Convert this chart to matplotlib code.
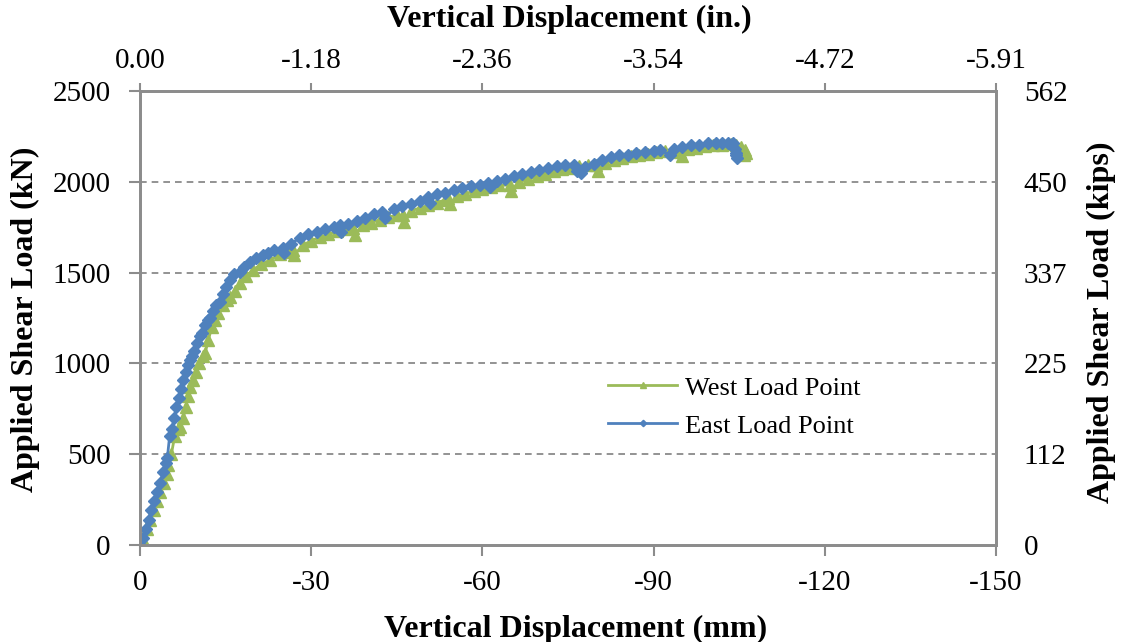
import matplotlib.pyplot as plt

plt.rcParams['font.family'] = ['Liberation Serif', 'DejaVu Serif']

# West load point (green) - displacement mm, load kN
west_disp = [0, -0.6, -1.2, -1.8, -2.4, -3.0, -3.6, -4.2, -4.8, -5.0, -5.5, -6.1, -6.6, -7.0,
             -7.6, -8.0, -8.4, -8.8, -9.3, -9.8, -10.4, -11.0, -11.4, -12.0, -12.6, -13.2,
             -13.7, -14.5, -15.2, -15.8, -16.6, -17.5, -18.6, -19.8, -21.2, -22.8, -24.5,
             -26.0, -26.8, -27.0, -28.5, -30.0, -31.5, -33.0, -34.5, -36.0, -37.4, -37.6,
             -39.0, -40.5, -42.0, -43.5, -45.0, -46.1, -46.3, -47.5, -49.0, -50.5, -52.0,
             -53.5, -54.0, -54.3, -55.5, -57.0, -58.5, -60.0, -61.5, -63.0, -64.8, -65.0,
             -66.5, -68.0, -69.5, -71.0, -72.5, -74.0, -75.5, -77.0, -78.5, -80.0, -80.3,
             -81.5, -83.0, -84.5, -86.0, -87.5, -89.0, -90.5, -92.0, -93.5, -94.6, -94.9,
             -96.0, -97.5, -99.0, -100.5, -102.0, -103.5, -104.5, -105.3, -106.0, -106.2,
             -105.8, -105.5]
west_load = [0, 30, 90, 140, 190, 240, 290, 340, 390, 440, 500, 600, 640, 650,
             700, 760, 820, 870, 909, 950, 1000, 1040, 1055, 1130, 1202, 1240,
             1276, 1320, 1350, 1367, 1400, 1441, 1480, 1514, 1545, 1569, 1600,
             1615, 1624, 1595, 1650, 1675, 1695, 1712, 1727, 1740, 1744, 1705,
             1760, 1775, 1790, 1805, 1815, 1817, 1780, 1840, 1855, 1870, 1885,
             1900, 1909, 1875, 1920, 1935, 1948, 1960, 1970, 1980, 1982, 1950,
             2000, 2015, 2030, 2045, 2058, 2068, 2075, 2085, 2090, 2093, 2060,
             2105, 2118, 2130, 2140, 2150, 2155, 2162, 2168, 2172, 2166, 2140,
             2180, 2188, 2195, 2200, 2205, 2206, 2200, 2190, 2175, 2157,
             2150, 2165]

# East load point (blue)
east_disp = [0, -0.5, -1.0, -1.5, -2.0, -2.5, -3.0, -3.5, -4.0, -4.5, -4.8, -5.2, -5.6, -6.0,
             -6.4, -6.8, -7.2, -7.6, -8.0, -8.4, -8.8, -9.1, -9.5, -10.0, -10.5, -10.8,
             -11.4, -12.0, -12.3, -12.8, -13.4, -14.0, -14.5, -15.0, -15.8, -16.5, -17.5,
             -18.3, -19.3, -20.4, -21.5, -22.5, -23.5, -25.0, -25.3, -26.5, -28.0, -29.5,
             -31.0, -32.5, -34.0, -35.0, -35.3, -36.5, -38.0, -39.5, -41.0, -42.5, -43.0,
             -44.5, -46.0, -47.5, -49.0, -50.5, -50.8, -52.0, -53.5, -55.0, -56.5, -58.0,
             -59.5, -61.0, -61.3, -62.5, -64.0, -65.5, -67.0, -68.5, -70.0, -71.5, -73.0,
             -74.5, -76.0, -76.5, -77.3, -78.0, -79.5, -81.0, -82.5, -84.0, -85.5, -87.0,
             -88.5, -90.0, -91.1, -92.8, -93.5, -95.0, -96.5, -98.0, -99.5, -101.0, -102.0,
             -103.0, -104.0, -104.3, -104.5, -104.6, -104.5]
east_load = [0, 40, 90, 140, 190, 240, 290, 340, 400, 450, 480, 600, 640, 700,
             760, 810, 860, 910, 950, 990, 1020, 1040, 1070, 1110, 1150, 1170,
             1210, 1240, 1250, 1290, 1320, 1340, 1380, 1420, 1460, 1490, 1505,
             1530, 1560, 1580, 1595, 1610, 1625, 1634, 1610, 1660, 1690, 1710,
             1725, 1740, 1750, 1760, 1722, 1770, 1785, 1800, 1820, 1835, 1802,
             1850, 1865, 1880, 1895, 1915, 1882, 1930, 1940, 1955, 1965, 1975,
             1985, 1995, 1970, 2005, 2015, 2030, 2045, 2055, 2065, 2075, 2085,
             2090, 2095, 2062, 2047, 2080, 2100, 2120, 2135, 2145, 2150, 2160,
             2165, 2170, 2175, 2148, 2182, 2193, 2200, 2205, 2212, 2216, 2212,
             2215, 2212, 2180, 2150, 2130, 2160]

x_ticks = [0, -30, -60, -90, -120, -150]
in_labels = ['0.00', '-1.18', '-2.36', '-3.54', '-4.72', '-5.91']
y_ticks = [0, 500, 1000, 1500, 2000, 2500]
kip_labels = ['0', '112', '225', '337', '450', '562']

green = '#9BBB59'
blue = '#4F81BD'
spine_c = '#8C8C8C'
tick_fs = 21

fig, ax = plt.subplots(figsize=(11.25, 6.42), dpi=100)
fig.subplots_adjust(left=0.1244, right=0.8853, top=0.8583, bottom=0.1511)

ax.plot(west_disp, west_load, color=green, lw=2, marker='^', ms=8.5, mec=green, label='West Load Point')
ax.plot(east_disp, east_load, color=blue, lw=2, marker='D', ms=6.5, mec=blue, label='East Load Point')

ax.set_xlim(0, -150)
ax.set_ylim(0, 2500)
ax.set_xticks(x_ticks)
ax.set_xticklabels([str(t) for t in x_ticks])
ax.set_yticks(y_ticks)
for y in y_ticks[1:]:
    ax.axhline(y, color='#808080', lw=1.2, ls=(0, (4, 3)), zorder=0)

ax.tick_params(axis='both', direction='out', length=8, width=1.5, color=spine_c, labelsize=tick_fs)
ax.tick_params(axis='x', pad=10)
ax.tick_params(axis='y', pad=13)

top = ax.twiny()
top.set_xlim(ax.get_xlim())
top.set_xticks(x_ticks)
top.set_xticklabels(in_labels)
top.tick_params(axis='x', direction='out', length=6, width=1.5, color=spine_c, labelsize=tick_fs, pad=6)

right = ax.twinx()
right.set_ylim(ax.get_ylim())
right.set_yticks(y_ticks)
right.set_yticklabels(kip_labels)
right.tick_params(axis='y', length=0, labelsize=tick_fs, pad=20)

for a in (ax, top, right):
    for s in a.spines.values():
        s.set_color(spine_c)
        s.set_linewidth(1.8)

# axis titles placed in figure pixels to match the reference
W, H = 1125, 642
fig.text(576 / W, 1 - 629 / H, 'Vertical Displacement (mm)', fontsize=23, fontweight='bold',
         ha='center', va='center')
fig.text(569 / W, 1 - 19 / H, 'Vertical Displacement (in.)', fontsize=23, fontweight='bold',
         ha='center', va='center')
fig.text(25 / W, 1 - 319 / H, 'Applied Shear Load (kN)', fontsize=23, fontweight='bold',
         rotation=90, ha='center', va='center')
fig.text(1101 / W, 1 - 322 / H, 'Applied Shear Load (kips)', fontsize=23, fontweight='bold',
         rotation=90, ha='center', va='center')

leg = ax.legend(loc='upper left', bbox_to_anchor=(0.535, 0.395), frameon=False, fontsize=19,
                handlelength=2.6, markerscale=0.5, labelspacing=0.55, handletextpad=0.3,
                borderaxespad=0)

fig.savefig('out.png', dpi=100)
